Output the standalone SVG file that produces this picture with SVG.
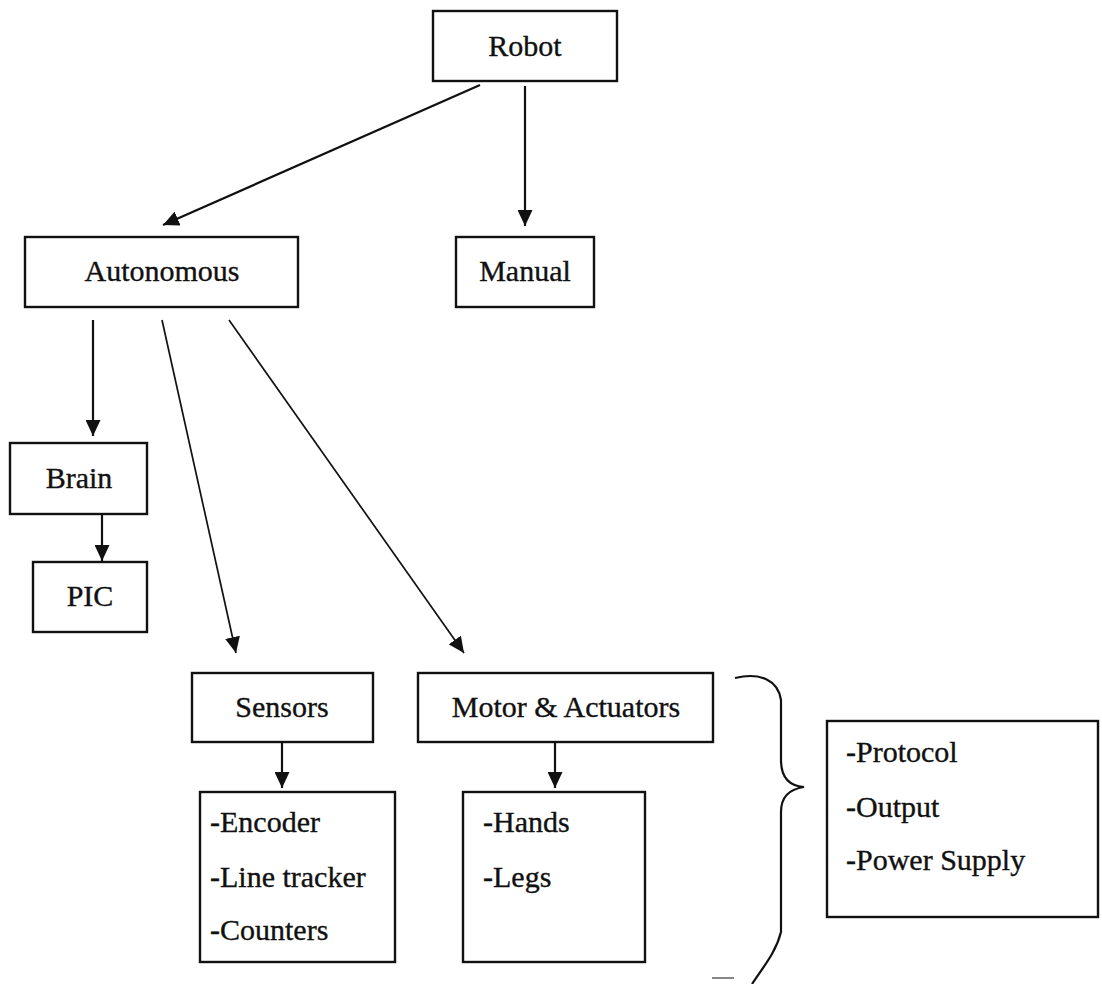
<svg xmlns="http://www.w3.org/2000/svg" width="1102" height="984" viewBox="0 0 1102 984">
  <style>
    .box { fill: #ffffff; stroke: #111111; stroke-width: 2.4; }
    .lbl { font-family: "Liberation Serif", "Times New Roman", serif; font-size: 30px; fill: #111111; stroke: #111111; stroke-width: 0.35; }
    .mid { text-anchor: middle; }
    .edge { stroke: #111111; stroke-width: 2.2; fill: none; }
    .thin { stroke: #111111; stroke-width: 1.7; fill: none; }
  </style>
  <defs>
    <marker id="arrow" markerUnits="userSpaceOnUse" markerWidth="16" markerHeight="15" refX="16" refY="7.5" orient="auto">
      <path d="M0,0 L16,7.5 L0,15 z" fill="#111111"/>
    </marker>
  </defs>

  <rect width="1102" height="984" fill="#ffffff"/>

  <!-- connectors -->
  <g id="connectors">
    <line class="edge" x1="480" y1="85" x2="163" y2="225" marker-end="url(#arrow)"/>
    <line class="edge" x1="525" y1="86" x2="525" y2="226" marker-end="url(#arrow)"/>
    <line class="edge" x1="93" y1="320" x2="93" y2="436" marker-end="url(#arrow)"/>
    <line class="thin" x1="162" y1="320" x2="236" y2="653" marker-end="url(#arrow)"/>
    <line class="thin" x1="229" y1="320" x2="464" y2="653" marker-end="url(#arrow)"/>
    <line class="edge" x1="102" y1="514" x2="102" y2="561" marker-end="url(#arrow)"/>
    <line class="edge" x1="282" y1="742" x2="282" y2="788" marker-end="url(#arrow)"/>
    <line class="edge" x1="555" y1="742" x2="555" y2="788" marker-end="url(#arrow)"/>
    <!-- curly brace grouping the motor branch with its properties -->
    <path class="edge" d="M735,678 C760,672 778,680 781,700 L781,760 C781,778 790,786 804,787 C790,789 781,796 781,812 L781,932 C776,952 764,966 752,984"/>
    <line class="thin" x1="712" y1="978" x2="734" y2="978" stroke-opacity="0.6"/>
  </g>

  <!-- nodes -->
  <g id="robot">
    <rect class="box" x="433" y="11" width="184" height="70"/>
    <text class="lbl mid" x="525" y="56">Robot</text>
  </g>
  <g id="autonomous">
    <rect class="box" x="25" y="237" width="273" height="70"/>
    <text class="lbl mid" x="162" y="281">Autonomous</text>
  </g>
  <g id="manual">
    <rect class="box" x="456" y="237" width="138" height="70"/>
    <text class="lbl mid" x="525" y="281">Manual</text>
  </g>
  <g id="brain">
    <rect class="box" x="10" y="443" width="137" height="71"/>
    <text class="lbl mid" x="79" y="488">Brain</text>
  </g>
  <g id="pic">
    <rect class="box" x="33" y="562" width="114" height="70"/>
    <text class="lbl mid" x="90" y="606">PIC</text>
  </g>
  <g id="sensors">
    <rect class="box" x="192" y="673" width="181" height="69"/>
    <text class="lbl mid" x="282" y="717">Sensors</text>
  </g>
  <g id="motor-actuators">
    <rect class="box" x="418" y="673" width="295" height="69"/>
    <text class="lbl mid" x="566" y="717">Motor &amp; Actuators</text>
  </g>
  <g id="sensor-list">
    <rect class="box" x="200" y="792" width="195" height="170"/>
    <text class="lbl" x="210" y="832">-Encoder</text>
    <text class="lbl" x="210" y="887">-Line tracker</text>
    <text class="lbl" x="210" y="940">-Counters</text>
  </g>
  <g id="actuator-list">
    <rect class="box" x="463" y="792" width="182" height="170"/>
    <text class="lbl" x="483" y="832">-Hands</text>
    <text class="lbl" x="483" y="887">-Legs</text>
  </g>
  <g id="motor-properties">
    <rect class="box" x="827" y="721" width="271" height="196"/>
    <text class="lbl" x="846" y="762">-Protocol</text>
    <text class="lbl" x="846" y="817">-Output</text>
    <text class="lbl" x="846" y="870">-Power Supply</text>
  </g>
</svg>
